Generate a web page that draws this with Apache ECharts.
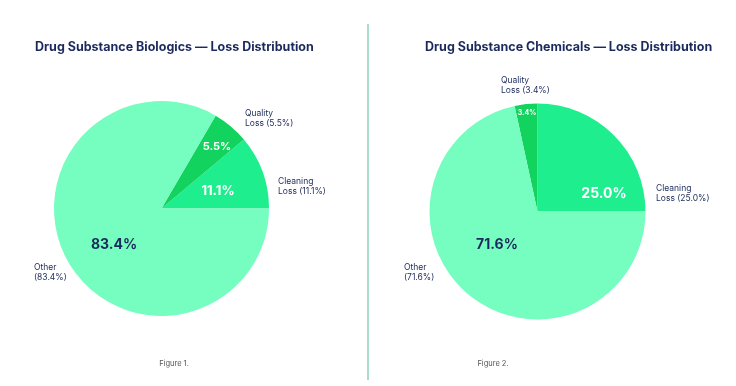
<!DOCTYPE html>
<html><head><meta charset="utf-8">
<script src="https://cdn.jsdelivr.net/npm/echarts@6/dist/echarts.min.js"></script>
<style>html,body{margin:0;padding:0;background:#fff}#c{width:736px;height:386px}</style>
</head><body><div id="c"></div>
<script>
// ---- data ----
const categories = ['Cleaning Loss', 'Quality Loss', 'Other'];
const biologicsValues = [11.1, 5.5, 83.4];
const chemicalsValues = [25.0, 3.4, 71.6];
const titles = ['Drug Substance Biologics — Loss Distribution', 'Drug Substance Chemicals — Loss Distribution'];
const captions = ['Figure 1.', 'Figure 2.'];

// ---- styles / layout ----
const NAVY = '#1b2a5c';
const COLORS = ['#1eee8e', '#11d35d', '#76fdc0'];
const FONT = 'Inter, "Noto Sans", sans-serif';
const pies = [
  { center: [161.5, 208.5], radius: 107.5 },
  { center: [537.5, 211.5], radius: 108 }
];
// label anchor positions (px) for inner value labels and outer name labels
const innerPos = [
  [[218, 191], [217, 147], [114, 245]],
  [[604, 194], [527, 113], [497, 245]]
];
const innerSize = [[13, 11, 14], [14, 7, 14]];
const innerColor = ['#ffffff', '#ffffff', NAVY];
const outerPos = [
  [[278, 176], [245, 108], [34, 262]],
  [[656, 183], [501, 75], [404, 262]]
];

function mkData(vals, pieIdx, inner) {
  return categories.map((n, i) => {
    const d = { name: n, value: vals[i], itemStyle: { color: inner ? COLORS[i] : 'rgba(0,0,0,0)' } };
    if (inner) d.label = { fontSize: innerSize[pieIdx][i], color: innerColor[i] };
    return d;
  });
}

const series = [];
[biologicsValues, chemicalsValues].forEach((vals, p) => {
  series.push({
    type: 'pie', id: 'in' + p, center: pies[p].center, radius: [0, pies[p].radius],
    startAngle: 0, clockwise: false, silent: true, animation: false,
    itemStyle: { borderWidth: 0 },
    label: { show: true, position: 'inside', fontFamily: FONT, fontWeight: 'bold',
      formatter: q => q.value.toFixed(1) + '%' },
    labelLine: { show: false },
    labelLayout: params => {
      const pos = innerPos[p][params.dataIndex];
      return { x: pos[0], y: pos[1], align: 'center', verticalAlign: 'middle' };
    },
    data: mkData(vals, p, true)
  });
  series.push({
    type: 'pie', id: 'out' + p, center: pies[p].center, radius: [0, pies[p].radius],
    startAngle: 0, clockwise: false, silent: true, animation: false,
    itemStyle: { borderWidth: 0 },
    label: { show: true, position: 'outside', fontFamily: FONT, fontSize: 8.5, lineHeight: 10,
      color: NAVY, align: 'left', overflow: 'none', width: 120,
      formatter: q => {
        const w = q.name.split(' ');
        const rest = w.slice(1).join(' ');
        return w[0] + '\n' + (rest ? rest + ' ' : '') + '(' + q.value.toFixed(1) + '%)';
      } },
    labelLine: { show: false },
    labelLayout: params => {
      const pos = outerPos[p][params.dataIndex];
      return { x: pos[0], y: pos[1], align: 'left', verticalAlign: 'top' };
    },
    data: mkData(vals, p, false)
  });
});

const chart = echarts.init(document.getElementById('c'), null, { renderer: 'canvas' });
const titleStyle = { fontFamily: FONT, fontSize: 12.5, fontWeight: 'bold', color: NAVY };
const capStyle = { fontFamily: FONT, fontSize: 7.5, fontWeight: 'normal', color: '#555' };
chart.setOption({
  backgroundColor: '#ffffff',
  animation: false,
  title: [
    { text: titles[0], left: 35, top: 41, padding: 0, textStyle: titleStyle },
    { text: titles[1], left: 425, top: 41, padding: 0, textStyle: titleStyle },
    { text: captions[0], left: 174, top: 360, padding: 0, textAlign: 'center', textStyle: capStyle },
    { text: captions[1], left: 493, top: 360, padding: 0, textAlign: 'center', textStyle: capStyle }
  ],
  graphic: [{ type: 'line', shape: { x1: 368, y1: 24, x2: 368, y2: 380 }, style: { stroke: '#a9dccd', lineWidth: 2 } }],
  series: series
});
</script></body></html>
